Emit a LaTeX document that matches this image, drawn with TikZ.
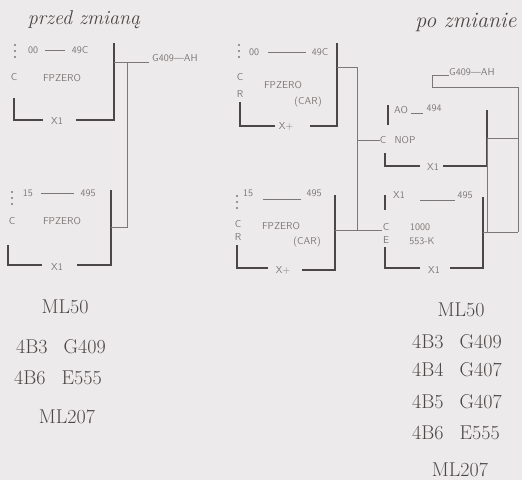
\documentclass[tikz,border=0pt]{standalone}
\usepackage{fontspec}
\usetikzlibrary{positioning}
\definecolor{InkGray}{HTML}{4C4747}
\definecolor{PaleInk}{HTML}{7D7878}
\definecolor{PaperGray}{HTML}{ECEAEA}
\tikzset{lbl/.style={font=\sffamily\fontsize{10}{11}\selectfont,text=PaleInk,inner sep=0pt},
  dot/.style={fill=PaleInk,circle,inner sep=0pt,minimum size=2.4pt},
  big/.style={font=\fontsize{20}{22}\selectfont,text=InkGray,inner sep=0pt},
  head/.style={font=\itshape\fontsize{20}{22}\selectfont,text=InkGray,inner sep=0pt},
  bar/.style={draw=InkGray,line width=2.4pt},
  wire/.style={draw=PaleInk,line width=0.8pt}}

\begin{document}
\begin{tikzpicture}[x=1pt,y=-1pt]
\fill[PaperGray] (0,0) rectangle (522,480);
\useasboundingbox (0,0) rectangle (522,480);

% headings
\node[head] (hl) at (84,20) {przed zmianą};
\node[head,font=\itshape\fontsize{22}{24}\selectfont] (hr) at (466,22) {po zmianie};

% left, first box
\foreach \y in {45,51,57} \node[dot] at (15,\y) {};
\node[lbl] (a1) at (33,50) {00};
\node[lbl] (q1) at (80,50) {49C};
\node[lbl] (c1) at (14,77) {C};
\node[lbl] (f1) at (62,78) {FPZERO};
\node[lbl] (x1) at (57,121) {X1};
\draw[wire] ([xshift=7pt]a1.east) -- ([xshift=-7pt]q1.west);
\draw[bar] (114,43) -- (114,120) -- (76,120);
\draw[bar] (14,98) -- (14,120) -- (43,120);

% left, second box
\foreach \y in {192,198,204} \node[dot] at (12,\y) {};
\node[lbl] (a2) at (28,193) {15};
\node[lbl] (q2) at (88,193) {495};
\node[lbl] (c2) at (12,221) {C};
\node[lbl] (f2) at (62,221) {FPZERO};
\node[lbl] (x2) at (57,267) {X1};
\draw[wire] ([xshift=8pt]a2.east) -- ([xshift=-6pt]q2.west);
\draw[bar] (111,190) -- (111,265) -- (77,265);
\draw[bar] (8,245) -- (8,265) -- (42,265);

% left wiring
\coordinate (o1) at (114,62);
\coordinate (j1) at (127,62);
\coordinate (o2) at (111,227);
\node[lbl,anchor=west] (g1) at (152,58) {G409---AH};
\coordinate (t1) at (149,62);
\draw[wire] (o1) -- (t1);
\draw[wire] (j1) |- (o2);

% middle, first box
\foreach \y in {45,51,57} \node[dot] at (239,\y) {};
\node[lbl] (a3) at (254,52) {00};
\node[lbl] (q3) at (320,52) {49C};
\node[lbl] (c3) at (240,77) {C};
\node[lbl] (r3) at (240,94) {R};
\node[lbl] (f3) at (283,85) {FPZERO};
\node[lbl] (k3) at (308,102) {(CAR)};
\node[lbl] (x3) at (286,126) {X+};
\draw[wire] ([xshift=9pt]a3.east) -- ([xshift=-6pt]q3.west);
\draw[bar] (337,43) -- (337,126) -- (310,126);
\draw[bar] (240,102) -- (240,126) -- (275,126);

% middle, second box
\foreach \y in {196,202,208} \node[dot] at (237,\y) {};
\node[lbl] (a4) at (248,193) {15};
\node[lbl] (q4) at (314,193) {495};
\node[lbl] (c4) at (238,224) {C};
\node[lbl] (r4) at (238,237) {R};
\node[lbl] (f4) at (281,226) {FPZERO};
\node[lbl] (k4) at (307,242) {(CAR)};
\node[lbl] (x4) at (283,270) {X+};
\draw[wire] ([xshift=10pt,yshift=-6pt]a4.east) -- ([xshift=-5pt,yshift=-6pt]q4.west);
\draw[bar] (335,195) -- (335,270) -- (302,270);
\draw[bar] (237,245) -- (237,268) -- (268,268);

% right, NOP box
\node[lbl] (a5) at (401,110) {AO};
\node[lbl] (q5) at (434,108) {494};
\node[lbl] (c5) at (383,140) {C};
\node[lbl] (n5) at (405,140) {NOP};
\node[lbl] (x5) at (433,167) {X1};
\draw[wire] ([xshift=3pt]a5.east |- 0,113) -- ([xshift=-3pt]q5.west |- 0,113);
\draw[bar] (388,105) -- (388,125);
\draw[bar] (385,153) -- (385,166) -- (420,166);
\draw[bar] (487,110) -- (487,166) -- (443,166);

% right, counter box
\node[lbl] (a6) at (399,195) {X1};
\node[lbl] (q6) at (465,195) {495};
\node[lbl] (c6) at (386,227) {C};
\node[lbl] (e6) at (386,240) {E};
\node[lbl] (n6) at (420,227) {1000};
\node[lbl] (s6) at (422,241) {553-K};
\node[lbl] (x6) at (434,270) {X1};
\draw[wire] (420,200) -- ([xshift=-2pt]q6.west |- 0,200);
\draw[bar] (385,195) -- (385,210);
\draw[bar] (385,247) -- (385,268) -- (420,268);
\draw[bar] (483,197) -- (483,268) -- (450,268);

% middle to right wiring
\coordinate (o3) at (337,67);
\coordinate (j3) at (357,67);
\coordinate (o4) at (335,230);
\coordinate (j4) at (357,230);
\draw[wire] (o3) -- (j3) -- (j4);
\draw[wire] (j3 |- c5) -- (c5.west);
\draw[wire] (o4) -- ([xshift=-1pt]c6.west |- o4);

% right wiring
\node[lbl,anchor=west] (g2) at (449,72) {G409---AH};
\coordinate (o5) at (487,138);
\coordinate (j5) at (518,138);
\coordinate (o6) at (483,232);
\coordinate (k6) at (487,232);
\coordinate (j6) at (518,232);
\draw[wire] (g2.west |- 0,75) -- (432,75) |- (518,87) -- (j6);
\draw[wire] (o5) -- (j5);
\draw[wire] (o5) -- (k6) -- (j6);
\draw[wire] (o6) -- (k6);

% lists, before
\node[big] (m1) at (65,307) {ML50};
\node[big,anchor=west] (l1) at (16,347) {4B3\hspace{0.8em}G409};
\node[big,anchor=west] (l2) at (14,378) {4B6\hspace{0.8em}E555};
\node[big] (m2) at (67,417) {ML207};

% lists, after
\node[big] (m3) at (461,310) {ML50};
\node[big,anchor=west] (l3) at (412,342) {4B3\hspace{0.8em}G409};
\node[big,anchor=west] (l4) at (412,370) {4B4\hspace{0.8em}G407};
\node[big,anchor=west] (l5) at (412,402) {4B5\hspace{0.8em}G407};
\node[big,anchor=west] (l6) at (412,433) {4B6\hspace{0.8em}E555};
\node[big] (m4) at (460,470) {ML207};
\end{tikzpicture}
\end{document}
